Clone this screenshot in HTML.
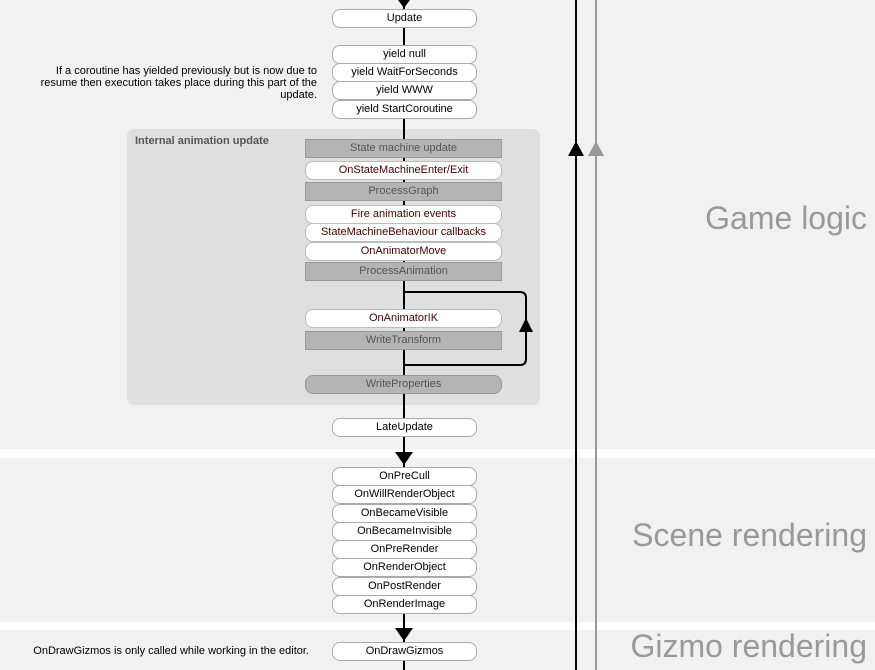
<!DOCTYPE html>
<html><head><meta charset="utf-8"><style>
html,body{margin:0;padding:0;}
body{width:875px;height:670px;position:relative;overflow:hidden;background:#f1f1f1;font-family:"Liberation Sans",Arial,sans-serif;font-size:11px;}
.b{position:absolute;box-sizing:border-box;height:19px;line-height:17px;text-align:center;white-space:nowrap;}
.p{left:332px;width:145px;background:#fff;border:1px solid #aaa;border-radius:8px;color:#000;}
.g{left:305px;width:197px;background:#b4b4b4;border:1px solid #999;color:#555;}
.w{left:305px;width:197px;background:#fff;border:1px solid #bbb;border-radius:8px;color:#400;}
.sep{position:absolute;left:0;width:875px;background:#fff;}
.big{position:absolute;right:8px;color:#999;font-size:32px;white-space:nowrap;}
.note{position:absolute;text-align:right;color:#000;font-size:11px;line-height:12px;}
</style></head><body>
<div class="sep" style="top:449px;height:9px"></div>
<div class="sep" style="top:622px;height:8px"></div>
<div style="position:absolute;left:127px;top:129px;width:413px;height:276px;background:#dfdfdf;border-radius:7px"></div>
<div style="position:absolute;left:135px;top:135px;color:#555;font-weight:bold;font-size:11px">Internal animation update</div>

<svg width="875" height="670" style="position:absolute;left:0;top:0">
<line x1="404" y1="0" x2="404" y2="670" stroke="#000" stroke-width="2"/>
<polygon points="398,0 410,0 404,8" fill="#000"/>
<path d="M404 292 H520 Q526 292 526 298 V359 Q526 365 520 365 H404" fill="none" stroke="#000" stroke-width="2"/>
<polygon points="519,332 533,332 526,318" fill="#000"/>
<polygon points="395,452 413,452 404,465" fill="#000"/>
<polygon points="395,628 413,628 404,641" fill="#000"/>
<line x1="576" y1="0" x2="576" y2="670" stroke="#000" stroke-width="2"/>
<line x1="596" y1="0" x2="596" y2="670" stroke="#999" stroke-width="2"/>
<polygon points="568,156 584,156 576,141" fill="#000"/>
<polygon points="588,156 604,156 596,141" fill="#999"/>
</svg>

<div class="b p" style="top:9px">Update</div>
<div class="b p" style="top:45px">yield null</div>
<div class="b p" style="top:63px">yield WaitForSeconds</div>
<div class="b p" style="top:81px">yield WWW</div>
<div class="b p" style="top:100px">yield StartCoroutine</div>

<div class="b g" style="top:139px">State machine update</div>
<div class="b w" style="top:161px">OnStateMachineEnter/Exit</div>
<div class="b g" style="top:182px">ProcessGraph</div>
<div class="b w" style="top:205px">Fire animation events</div>
<div class="b w" style="top:223px">StateMachineBehaviour callbacks</div>
<div class="b w" style="top:242px">OnAnimatorMove</div>
<div class="b g" style="top:262px">ProcessAnimation</div>
<div class="b w" style="top:309px">OnAnimatorIK</div>
<div class="b g" style="top:331px">WriteTransform</div>
<div class="b g" style="top:375px;border-radius:8px">WriteProperties</div>

<div class="b p" style="top:418px">LateUpdate</div>
<div class="b p" style="top:467px">OnPreCull</div>
<div class="b p" style="top:485px">OnWillRenderObject</div>
<div class="b p" style="top:504px">OnBecameVisible</div>
<div class="b p" style="top:522px">OnBecameInvisible</div>
<div class="b p" style="top:540px">OnPreRender</div>
<div class="b p" style="top:558px">OnRenderObject</div>
<div class="b p" style="top:577px">OnPostRender</div>
<div class="b p" style="top:595px">OnRenderImage</div>
<div class="b p" style="top:642px">OnDrawGizmos</div>

<div class="note" style="left:20px;top:65px;width:297px">If a coroutine has yielded previously but is now due to resume then execution takes place during this part of the update.</div>
<div class="note" style="left:20px;top:645px;width:289px">OnDrawGizmos is only called while working in the editor.</div>

<div class="big" style="top:200px">Game logic</div>
<div class="big" style="top:517px">Scene rendering</div>
<div class="big" style="top:628px">Gizmo rendering</div>
</body></html>
